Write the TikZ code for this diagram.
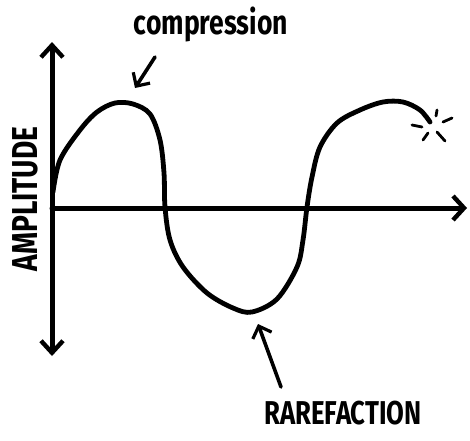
\documentclass[tikz,border=0pt]{standalone}
\usepackage{fontspec}
\newfontfamily\handfont[FakeStretch=0.78]{Fira Sans}
\usetikzlibrary{arrows.meta}
\tikzset{
  axis line/.style={line width=5pt,line cap=round,line join=round,
    {Straight Barb[length=12pt,width=22pt,line width=4.4pt]}-{Straight Barb[length=12pt,width=22pt,line width=4.4pt]}},
  axis end/.style={line width=5pt,line cap=round,-{Straight Barb[length=11pt,width=24pt,line width=4.4pt]}},
  wave line/.style={line width=4.8pt,line cap=round,line join=round},
  pointer/.style={line width=3.6pt,line cap=round,-{Straight Barb[length=10pt,width=20pt,line width=3.2pt]}},
  spark/.style={line width=2.8pt,line cap=round},
  hand label/.style={font=\handfont\bfseries\fontsize{33}{33}\selectfont,inner sep=0pt}
}
\begin{document}
\begin{tikzpicture}[x=1pt,y=-1pt]
  \useasboundingbox (0,0) rectangle (470,440);
  % axes
  \coordinate (top) at (52,42);
  \coordinate (bottom) at (52,356);
  \coordinate (origin) at (52,208);
  \coordinate (right) at (467,208);
  \draw[axis line] (top) -- (bottom);
  \draw[axis end] (origin) -- (right);
  % the wave
  \draw[wave line] plot[smooth,tension=0.55] coordinates {
    (53,192) (60,160) (80,130) (97,112) (115,103) (133,104) (150,114)
    (160,140) (164,173) (165,207) (170,240) (183,267) (207,293) (233,308)
    (252,312) (277,299) (297,267) (303,240) (307,207) (312,177) (320,147)
    (337,123) (360,110) (383,102) (403,102) (420,110) (430,122)};
  \coordinate (peak) at (135,88);
  \coordinate (trough) at (258,324);
  % sparkle at the end of the wave
  \draw[spark] (412,125) -- (422,127);
  \draw[spark] (437,110) -- (436,116);
  \draw[spark] (443,122) -- (452,118);
  \draw[spark] (423,140) -- (428,133);
  \draw[spark] (437,132) -- (445,141);
  % labels
  \node[hand label,font=\handfont\bfseries\fontsize{34}{34}\selectfont] (compression) at (211,24) {compression};
  \node[hand label,rotate=90,font=\handfont\bfseries\fontsize{36}{36}\selectfont] (amplitude) at (25,199) {AMPLITUDE};
  \node[hand label] (rarefaction) at (343,413) {RAREFACTION};
  \coordinate (comp tail) at (155,57);
  \coordinate (rare tail) at (281,387);
  \draw[pointer] (comp tail) -- (peak);
  \draw[pointer] (rare tail) -- (trough);
\end{tikzpicture}
\end{document}
